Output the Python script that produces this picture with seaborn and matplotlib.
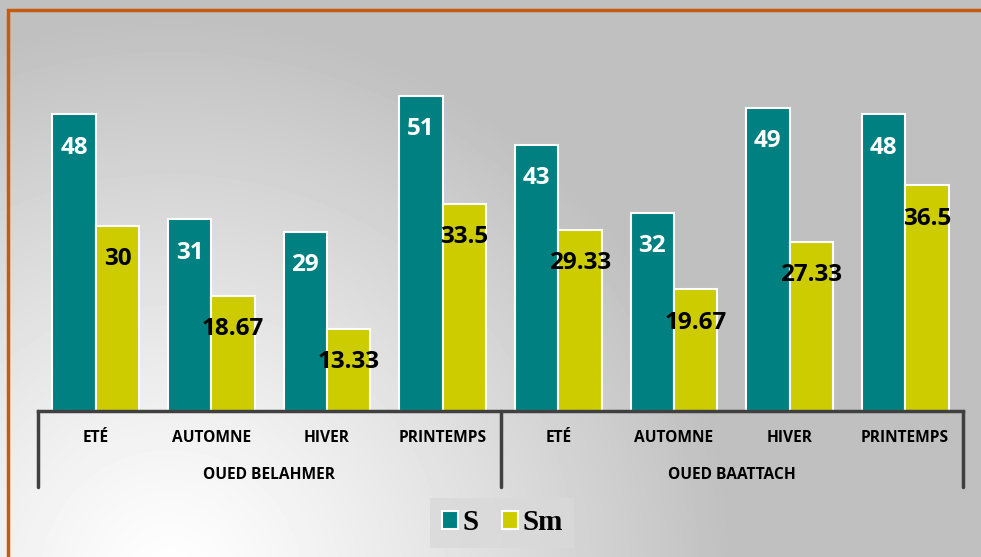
import numpy as np
import pandas as pd
import matplotlib
import matplotlib.pyplot as plt
import seaborn as sns
from matplotlib.lines import Line2D
from matplotlib.patches import Patch

matplotlib.use("Agg")

# ---- data ----
groups = ["OUED BELAHMER", "OUED BAATTACH"]
seasons = ["ETÉ", "AUTOMNE", "HIVER", "PRINTEMPS"]
s_values = [48, 31, 29, 51, 43, 32, 49, 48]
sm_values = [30, 18.67, 13.33, 33.5, 29.33, 19.67, 27.33, 36.5]
series_names = ["S", "Sm"]
palette = ["#008080", "#CCCC00"]

keys = [f"{g}|{s}" for g in groups for s in seasons]
df = pd.DataFrame({
    "key": keys * 2,
    "serie": [series_names[0]] * len(keys) + [series_names[1]] * len(keys),
    "value": s_values + sm_values,
})

sns.set_theme(style="white")
plt.rcParams["font.family"] = ["Open Sans", "DejaVu Sans"]

fig = plt.figure(figsize=(9.81, 5.57), dpi=100)

# ---- gradient background ----
W, H = 981, 557
yy, xx = np.mgrid[0:H, 0:W]
d = np.hypot(xx - 170, yy - 580) / 560
d = np.clip(d, 0, 1) ** 1.2
bg = 1.0 - (1.0 - 0.753) * d
bg_ax = fig.add_axes([0, 0, 1, 1], zorder=-10)
bg_ax.imshow(bg, cmap="gray", vmin=0, vmax=1, aspect="auto", extent=[0, W, H, 0])
bg_ax.set_xlim(0, W)
bg_ax.set_ylim(H, 0)
bg_ax.axis("off")
# orange frame (top and left edges visible)
bg_ax.plot([8, 8, W + 5], [H + 5, 10, 10], color="#C55A11", lw=2.5,
           solid_joinstyle="miter", clip_on=False)

# ---- bars ----
left, right = 38 / W, 963 / W
bottom = 1 - 411 / H
top = 1 - 40 / H
ax = fig.add_axes([left, bottom, right - left, top - bottom])
ax.patch.set_alpha(0)

sns.barplot(data=df, x="key", y="value", hue="serie", order=keys,
            hue_order=series_names, palette=palette, width=0.75,
            edgecolor="white", linewidth=1.5, saturation=1, ax=ax,
            legend=False)
ax.set_ylim(0, 60)
ax.set_xlim(-0.5, len(keys) - 0.5)

for cont, col in zip(ax.containers, ["white", "black"]):
    for bar in cont:
        h = bar.get_height()
        ax.annotate(f"{h:g}", (bar.get_x() + bar.get_width() / 2, h),
                    xytext=(0, -24), textcoords="offset points",
                    ha="center", va="center", color=col,
                    fontsize=17.5, fontweight="bold")

# ---- axes styling ----
for sp in ["top", "right", "left"]:
    ax.spines[sp].set_visible(False)
ax.spines["bottom"].set_color("#404040")
ax.spines["bottom"].set_linewidth(2.5)
ax.set_yticks([])
ax.set_ylabel("")
ax.set_xlabel("")
ax.set_xticks(range(len(keys)))
ax.set_xticklabels([])
ax.tick_params(axis="x", length=0)

axh = (top - bottom) * H
trans = ax.get_xaxis_transform()
for xpos in [-0.5, 3.5, 7.5]:
    ax.add_line(Line2D([xpos, xpos], [0, -76 / axh], transform=trans,
                       color="#404040", lw=2.5, clip_on=False))
for i, k in enumerate(keys):
    ax.text(i, -27 / axh, k.split("|")[1], transform=trans, ha="center",
            va="center", fontsize=11.2, fontweight="bold", color="black")
for gi, g in enumerate(groups):
    ax.text(gi * 4 + 1.5, -64 / axh, g, transform=trans, ha="center",
            va="center", fontsize=11.2, fontweight="bold", color="black")

# ---- legend ----
handles = [Patch(facecolor=c, edgecolor="white", linewidth=1.5) for c in palette]
leg = fig.legend(handles, series_names, loc="center", bbox_to_anchor=(0.512, 1 - 523 / H),
                 ncol=2, frameon=True, handlelength=0.55, handleheight=0.55,
                 handletextpad=0.15, columnspacing=0.8, borderpad=0.4,
                 labelcolor="black",
                 prop={"family": "Liberation Serif", "weight": "bold", "size": 21})
leg.get_frame().set_facecolor("#D9D9D9")
leg.get_frame().set_edgecolor("none")
leg.get_frame().set_boxstyle("square", pad=0)

fig.savefig("out.png", dpi=100)
